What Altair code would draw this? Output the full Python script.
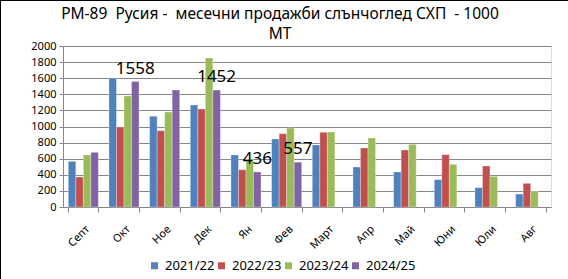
import altair as alt
import pandas as pd

months = ["Септ", "Окт", "Ное", "Дек", "Ян", "Фев", "Март", "Апр", "Май", "Юни", "Юли", "Авг"]
seasons = ["2021/22", "2022/23", "2023/24", "2024/25"]
colors = ["#4F81BD", "#C0504D", "#9BBB59", "#8064A2"]

s2122 = [567, 1602, 1126, 1267, 646, 845, 770, 497, 435, 340, 240, 161]
s2223 = [373, 994, 948, 1217, 463, 911, 928, 733, 708, 650, 509, 294]
s2324 = [646, 1379, 1180, 1851, 588, 981, 932, 857, 778, 530, 381, 195]
s2425 = [679, 1558, 1453, 1452, 436, 557]
labelled_months = ["Окт", "Дек", "Ян", "Фев"]

rows = []
for season, vals in zip(seasons, [s2122, s2223, s2324, s2425]):
    for m, v in zip(months, vals):
        rows.append({"month": m, "season": season, "value": v,
                     "label": str(v) if (season == "2024/25" and m in labelled_months) else ""})
df = pd.DataFrame(rows)

FONT = "Noto Sans"
NB = "\u00a0"
title_line1 = f"РМ-89{NB} Русия -{NB} месечни продажби слънчоглед СХП{NB} - 1000"

x = alt.X("month:N", sort=months, title=None,
          scale=alt.Scale(paddingInner=0.26, paddingOuter=0.13),
          axis=alt.Axis(labelAngle=-45, labelFontSize=11, labelColor="#000000", labelFont=FONT,
                        domainColor="#868686", tickColor="#868686", tickBand="extent",
                        tickSize=5, labelPadding=11, grid=False))
xo = alt.XOffset("season:N", sort=seasons, scale=alt.Scale(paddingInner=0, paddingOuter=0))
y = alt.Y("value:Q", title=None,
          scale=alt.Scale(domain=[0, 2000], nice=False),
          axis=alt.Axis(values=list(range(0, 2001, 200)), format="d", labelFontSize=11,
                        labelColor="#000000", labelFont=FONT, domainColor="#868686",
                        tickColor="#868686", tickSize=4, gridColor="#868686", gridWidth=1,
                        labelPadding=3))

bars = alt.Chart(df).mark_bar(stroke="#ffffff", strokeOpacity=0.5, strokeWidth=0.6).encode(
    x=x, xOffset=xo, y=y,
    color=alt.Color("season:N", sort=seasons,
                    scale=alt.Scale(domain=seasons, range=colors),
                    legend=alt.Legend(title=None, orient="none", direction="horizontal",
                                      legendX=85, legendY=213, symbolType="square",
                                      symbolSize=49, symbolStrokeWidth=0, labelFontSize=13,
                                      labelFont=FONT, labelColor="#000000", columnPadding=0,
                                      symbolOffset=0, labelOffset=4))
)

texts = alt.Chart(df).transform_filter("datum.label != ''").mark_text(
    fontSize=17, font=FONT, dy=-13, color="#000000", baseline="middle"
).encode(x=x, xOffset=xo, y=y, text="label:N")

frame_top = alt.Chart(df).mark_rule(color="#000000", strokeWidth=2).encode(
    x=alt.value(-63), x2=alt.value(505), y=alt.value(-46))
frame_left = alt.Chart(df).mark_rule(color="#000000", strokeWidth=2).encode(
    x=alt.value(-63), y=alt.value(-46), y2=alt.value(233))

chart = alt.layer(bars, texts, frame_top, frame_left).properties(
    width=488, height=161,
    autosize=alt.AutoSizeParams(type="none"),
    padding={"left": 63, "top": 46, "right": 17, "bottom": 72},
    title=alt.Title([title_line1, "МТ"],
                    fontSize=15.5, font=FONT, fontWeight="normal", color="#000000",
                    anchor="middle", dx=-27, offset=-43, lineHeight=20),
).configure_view(stroke=None).configure(background="#ffffff")

chart.save("out.html", embed_options={"renderer": "svg", "actions": False})
